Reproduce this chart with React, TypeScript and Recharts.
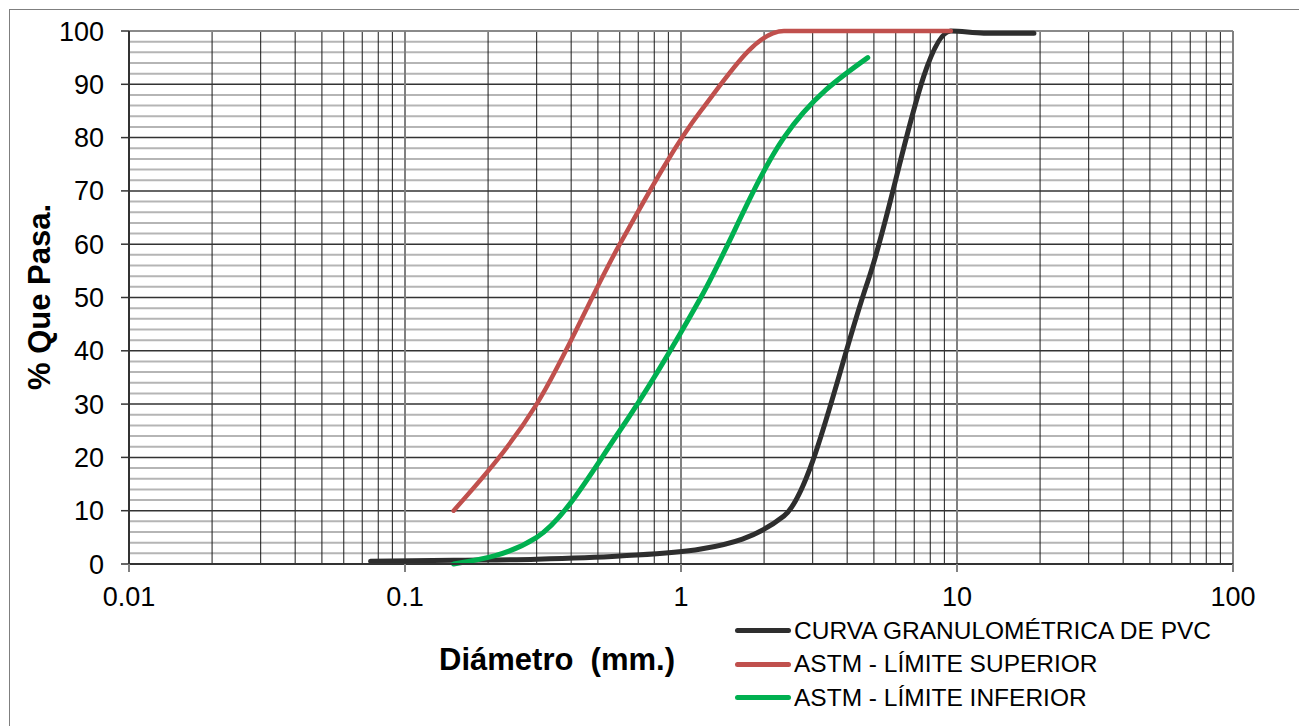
import React from "react";
import { LineChart, Line, XAxis, YAxis, ReferenceLine, Legend } from "recharts";

// Aberturas de tamiz (mm)
const SIEVES_PVC = [0.075, 0.15, 0.3, 0.6, 1.18, 2.36, 4.75, 9.5, 12.5, 19];
const PASA_PVC = [0.5, 0.7, 0.9, 1.5, 2.8, 9, 53, 100, 99.6, 99.6];

const SIEVES_SUP = [0.15, 0.3, 0.6, 1.18, 2.36, 4.75, 9.5];
const PASA_SUP = [10, 30, 60, 85, 100, 100, 100];

const SIEVES_INF = [0.15, 0.3, 0.6, 1.18, 2.36, 4.75];
const PASA_INF = [0, 5, 25, 50, 80, 95];

const X_TICKS = [
  0.01, 0.02, 0.03, 0.04, 0.05, 0.06, 0.07, 0.08, 0.09,
  0.1, 0.2, 0.3, 0.4, 0.5, 0.6, 0.7, 0.8, 0.9,
  1, 2, 3, 4, 5, 6, 7, 8, 9,
  10, 20, 30, 40, 50, 60, 70, 80, 90, 100,
];
const X_DECADES = [0.01, 0.1, 1, 10, 100];
const Y_TICKS = [0, 10, 20, 30, 40, 50, 60, 70, 80, 90, 100];
const Y_MINOR = Array.from({ length: 51 }, (_, i) => i * 2).filter((v) => v % 10 !== 0);

const SERIES = [
  { name: "CURVA GRANULOMÉTRICA DE PVC", color: "#2e2e2e", width: 5, x: SIEVES_PVC, y: PASA_PVC },
  { name: "ASTM - LÍMITE SUPERIOR", color: "#c0504d", width: 4.5, x: SIEVES_SUP, y: PASA_SUP },
  { name: "ASTM - LÍMITE INFERIOR", color: "#00b050", width: 5, x: SIEVES_INF, y: PASA_INF },
];

const toRows = (xs: number[], ys: number[]) => xs.map((d, i) => ({ d, v: ys[i] }));

const XTick = (props: any) => {
  const { x, y, payload } = props;
  if (!X_DECADES.includes(payload.value)) return <g />;
  return (
    <g>
      <line x1={x} x2={x} y1={y} y2={y + 8} stroke="#808080" strokeWidth={2} />
      <text x={x} y={y + 42} textAnchor="middle" fontSize={27} fill="#000">
        {String(payload.value)}
      </text>
    </g>
  );
};

const LegendBox = () => (
  <div style={{ display: "flex", flexDirection: "column" }}>
    {SERIES.map((s) => (
      <div key={s.name} style={{ display: "flex", alignItems: "center", height: 33.5 }}>
        <div style={{ width: 56, height: 5, borderRadius: 3, background: s.color }} />
        <span style={{ fontSize: 24.5, color: "#000", marginLeft: 3, whiteSpace: "pre" }}>{s.name}</span>
      </div>
    ))}
  </div>
);

export default function App() {
  return (
    <div
      style={{
        position: "absolute",
        left: 9,
        top: 9,
        width: 1290,
        height: 717,
        overflow: "hidden",
        fontFamily: "'Liberation Sans', Arial, sans-serif",
      }}
    >
      <div style={{ position: "relative", width: 1400, height: 800, border: "1px solid #7f7f7f" }}>
        <LineChart width={1289} height={716} margin={{ top: 21, right: 66, bottom: 102, left: 0 }}>
          <XAxis
            dataKey="d"
            type="number"
            scale="log"
            domain={[0.01, 100]}
            ticks={X_TICKS}
            interval={0}
            allowDataOverflow
            tickLine={false}
            tickSize={0}
            tickMargin={0}
            tick={<XTick />}
            axisLine={{ stroke: "#333", strokeWidth: 2 }}
            height={60}
          />
          <YAxis
            type="number"
            domain={[0, 100]}
            ticks={Y_TICKS}
            interval={0}
            width={119}
            tickSize={8}
            tickMargin={17}
            tickLine={{ stroke: "#333", strokeWidth: 1.5 }}
            axisLine={{ stroke: "#333", strokeWidth: 2 }}
            tick={{ fontSize: 27, fill: "#000" }}
          />
          {/* grilla: menores horizontales, verticales, mayores */}
          {Y_MINOR.map((v) => (
            <ReferenceLine key={"h" + v} y={v} stroke="#b5b5b5" strokeWidth={2} zIndex={-60} />
          ))}
          {X_TICKS.filter((v) => !X_DECADES.includes(v)).map((v) => (
            <ReferenceLine key={"v" + v} x={v} stroke="#1a1a1a" strokeWidth={1} zIndex={-55} />
          ))}
          {Y_TICKS.map((v) => (
            <ReferenceLine
              key={"H" + v}
              y={v}
              stroke={v === 100 ? "#8a8a8a" : "#333"}
              strokeWidth={v === 100 ? 2 : 1.5}
              zIndex={-50}
            />
          ))}
          {X_DECADES.map((v) => (
            <ReferenceLine key={"V" + v} x={v} stroke="#808080" strokeWidth={2} zIndex={-45} />
          ))}
          {SERIES.map((s) => (
            <Line
              key={s.name}
              data={toRows(s.x, s.y)}
              dataKey="v"
              name={s.name}
              type="monotone"
              stroke={s.color}
              strokeWidth={s.width}
              strokeLinecap="round"
              dot={false}
              activeDot={false}
              isAnimationActive={false}
            />
          ))}
          <Legend
            layout="vertical"
            align="center"
            verticalAlign="middle"
            content={() => <LegendBox />}
            wrapperStyle={{ left: 725, top: 604, width: 540, height: 110 }}
          />
        </LineChart>
        <div
          style={{
            position: "absolute",
            left: 547,
            top: 650,
            transform: "translate(-50%, -50%)",
            fontSize: 31,
            fontWeight: "bold",
            whiteSpace: "pre",
          }}
        >
          {"Diámetro  (mm.)"}
        </div>
        <div
          style={{
            position: "absolute",
            left: 30,
            top: 287,
            transform: "translate(-50%, -50%) rotate(-90deg)",
            fontSize: 31,
            fontWeight: "bold",
            whiteSpace: "pre",
          }}
        >
          {"% Que Pasa."}
        </div>
      </div>
    </div>
  );
}
